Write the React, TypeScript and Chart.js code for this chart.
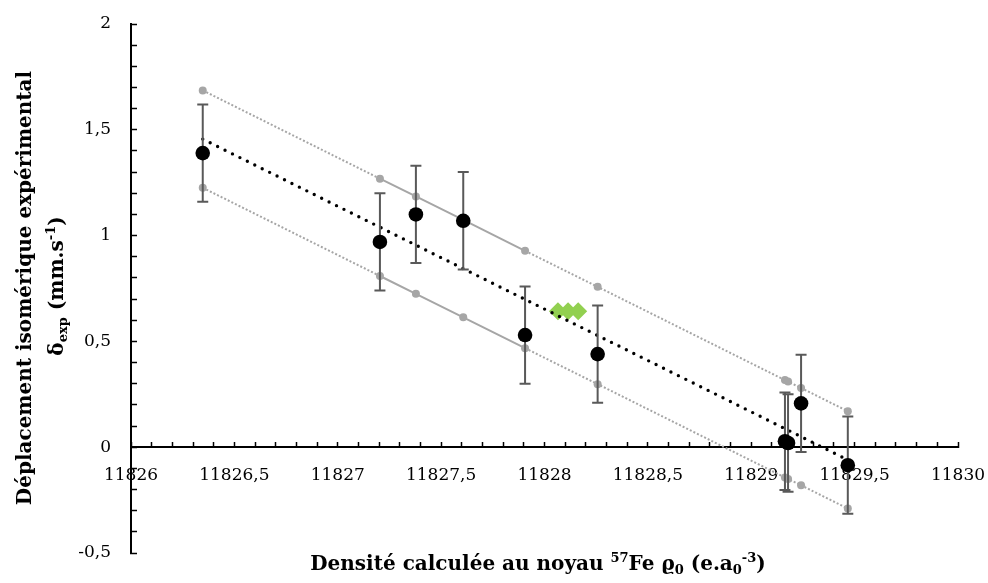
import React, { useEffect, useRef } from "react";
import { Chart, registerables } from "chart.js";

Chart.register(...registerables);

// ---- Data ----
const densityX = [11826.347, 11827.204, 11827.378, 11827.607, 11827.906, 11828.257, 11829.163, 11829.178, 11829.241, 11829.467];
const deltaExp = [1.39, 0.97, 1.10, 1.07, 0.53, 0.44, 0.028, 0.02, 0.207, -0.085];
const deltaErr = [0.23, 0.23, 0.23, 0.23, 0.23, 0.23, 0.23, 0.23, 0.23, 0.23];

const upperBandY = [1.686, 1.269, 1.185, 1.074, 0.928, 0.758, 0.317, 0.31, 0.28, 0.17];
const lowerBandY = [1.226, 0.809, 0.725, 0.614, 0.468, 0.298, -0.143, -0.15, -0.18, -0.29];

const fitX = [11826.347, 11829.467];
const fitY = [1.456, -0.06];

const greenX = [11828.065, 11828.114, 11828.163];
const greenY = [0.643, 0.643, 0.643];

const xMin = 11826;
const xMax = 11830;
const yMin = -0.5;
const yMax = 2;
const minorStep = 0.1;

const SERIF = "'DejaVu Serif', 'Liberation Serif', serif";

type Part = { t: string; k?: "sub" | "sup" };

const yTitle1: Part[] = [{ t: "Déplacement isomérique expérimental" }];
const yTitle2: Part[] = [{ t: "δ" }, { t: "exp", k: "sub" }, { t: " (mm.s" }, { t: "-1", k: "sup" }, { t: ")" }];
const xTitle: Part[] = [
  { t: "Densité calculée au noyau " },
  { t: "57", k: "sup" },
  { t: "Fe ϱ" },
  { t: "0", k: "sub" },
  { t: " (e.a" },
  { t: "0", k: "sub" },
  { t: "-3", k: "sup" },
  { t: ")" },
];

function fmtMajor(v: number): string {
  const r = Math.round(v * 2) / 2;
  if (Math.abs(v - r) > 1e-6) return "";
  return String(r).replace(".", ",");
}

function drawRich(ctx: CanvasRenderingContext2D, parts: Part[], cx: number, baseline: number, size: number) {
  const base = `bold ${size}px ${SERIF}`;
  const small = `bold ${Math.round(size * 0.66)}px ${SERIF}`;
  let total = 0;
  const widths = parts.map((p) => {
    ctx.font = p.k ? small : base;
    const w = ctx.measureText(p.t).width;
    total += w;
    return w;
  });
  let x = cx - total / 2;
  ctx.textAlign = "left";
  ctx.textBaseline = "alphabetic";
  parts.forEach((p, i) => {
    ctx.font = p.k ? small : base;
    const dy = p.k === "sub" ? size * 0.22 : p.k === "sup" ? -size * 0.4 : 0;
    ctx.fillText(p.t, x, baseline + dy);
    x += widths[i];
  });
}

const errorBarPlugin = {
  id: "errorBars",
  beforeDatasetDraw(chart: any, args: any) {
    if (args.index !== 0) return;
    const { ctx, scales } = chart;
    const xs = scales.x;
    const ys = scales.y;
    ctx.save();
    ctx.strokeStyle = "#595959";
    ctx.lineWidth = 2;
    densityX.forEach((xv, i) => {
      const px = xs.getPixelForValue(xv);
      const top = ys.getPixelForValue(deltaExp[i] + deltaErr[i]);
      const bot = ys.getPixelForValue(deltaExp[i] - deltaErr[i]);
      ctx.beginPath();
      ctx.moveTo(px, top);
      ctx.lineTo(px, bot);
      ctx.moveTo(px - 5.5, top);
      ctx.lineTo(px + 5.5, top);
      ctx.moveTo(px - 5.5, bot);
      ctx.lineTo(px + 5.5, bot);
      ctx.stroke();
    });
    ctx.restore();
  },
};

const titlesPlugin = {
  id: "richTitles",
  afterDraw(chart: any) {
    const { ctx } = chart;
    ctx.save();
    ctx.fillStyle = "#000";
    drawRich(ctx, xTitle, 538, 570, 20);
    ctx.restore();

    // y title, rotated -90deg, centred at y = 288
    ctx.save();
    ctx.fillStyle = "#000";
    ctx.translate(31, 288);
    ctx.rotate(-Math.PI / 2);
    drawRich(ctx, yTitle1, 0, 0, 20);
    ctx.restore();

    ctx.save();
    ctx.fillStyle = "#000";
    ctx.translate(63, 286);
    ctx.rotate(-Math.PI / 2);
    drawRich(ctx, yTitle2, 0, 0, 20);
    ctx.restore();
  },
};

export default function App() {
  const canvasRef = useRef<HTMLCanvasElement | null>(null);

  useEffect(() => {
    const canvas = canvasRef.current;
    if (!canvas) return;

    const pts = (xs: number[], ys: number[]) => xs.map((x, i) => ({ x, y: ys[i] }));
    const dotted = [2, 2];

    const chart = new Chart(canvas, {
      type: "scatter",
      data: {
        datasets: [
          {
            label: "Expérience",
            data: pts(densityX, deltaExp),
            order: 0,
            showLine: false,
            pointRadius: 7.3,
            pointBackgroundColor: "#000000",
            pointBorderWidth: 0,
            pointBorderColor: "#000000",
          },
          {
            label: "Régression",
            data: pts(fitX, fitY),
            order: 1,
            showLine: true,
            pointRadius: 0,
            borderColor: "#000000",
            borderWidth: 3.4,
            borderDash: [0, 8.3],
            borderCapStyle: "round",
          },
          {
            label: "Calcul",
            data: pts(greenX, greenY),
            order: 2,
            showLine: false,
            pointStyle: "rectRot",
            pointRadius: 9,
            pointBackgroundColor: "#92D050",
            pointBorderColor: "#92D050",
            pointBorderWidth: 0,
          },
          {
            label: "Borne sup",
            data: pts(densityX, upperBandY),
            order: 3,
            showLine: true,
            borderColor: "#A6A6A6",
            borderWidth: 2,
            borderDash: dotted,
            pointRadius: 4,
            pointBackgroundColor: "#A6A6A6",
            pointBorderWidth: 0,
            segment: {
              borderDash: (c: any) => (c.p0DataIndex >= 1 && c.p1DataIndex <= 4 ? [] : dotted),
            },
          },
          {
            label: "Borne inf",
            data: pts(densityX, lowerBandY),
            order: 4,
            showLine: true,
            borderColor: "#A6A6A6",
            borderWidth: 2,
            borderDash: dotted,
            pointRadius: 4,
            pointBackgroundColor: "#A6A6A6",
            pointBorderWidth: 0,
            segment: {
              borderDash: (c: any) => (c.p0DataIndex >= 1 && c.p1DataIndex <= 4 ? [] : dotted),
            },
          },
        ],
      },
      options: {
        responsive: false,
        animation: false,
        devicePixelRatio: 1,
        layout: { autoPadding: false, padding: { left: 0, right: 30, top: 24, bottom: 30 } },
        plugins: {
          legend: { display: false },
          tooltip: { enabled: false },
        },
        scales: {
          x: {
            type: "linear",
            min: xMin,
            max: xMax,
            position: { y: 0 } as any,
            ticks: {
              stepSize: minorStep,
              autoSkip: false,
              maxRotation: 0,
              minRotation: 0,
              callback: (v: any) => fmtMajor(Number(v)),
              font: { family: SERIF, size: 17 },
              color: "#000",
              padding: 24,
            },
            grid: {
              drawOnChartArea: false,
              drawTicks: true,
              tickLength: -6,
              tickColor: "#000",
              tickWidth: 1.5,
            },
            border: { display: true, color: "#000", width: 2 },
            afterFit: (s: any) => {
              s.paddingLeft = 0;
              s.paddingRight = 0;
              s.paddingTop = 0;
              s.paddingBottom = 0;
            },
          },
          y: {
            type: "linear",
            min: yMin,
            max: yMax,
            ticks: {
              stepSize: minorStep,
              autoSkip: false,
              callback: (v: any) => fmtMajor(Number(v)),
              font: { family: SERIF, size: 17 },
              color: "#000",
              padding: 26,
            },
            grid: {
              drawOnChartArea: false,
              drawTicks: true,
              tickLength: -6,
              tickColor: "#000",
              tickWidth: 1.5,
            },
            border: { display: true, color: "#000", width: 2 },
            afterFit: (s: any) => {
              s.width = 131;
              s.paddingTop = 0;
              s.paddingBottom = 0;
              s.paddingLeft = 0;
              s.paddingRight = 0;
            },
          },
        },
      } as any,
      plugins: [errorBarPlugin, titlesPlugin],
    });

    return () => chart.destroy();
  }, []);

  return (
    <div style={{ position: "absolute", left: 0, top: 0, width: 988, height: 583, background: "#fff" }}>
      <canvas ref={canvasRef} width={988} height={583} style={{ display: "block" }} />
    </div>
  );
}
